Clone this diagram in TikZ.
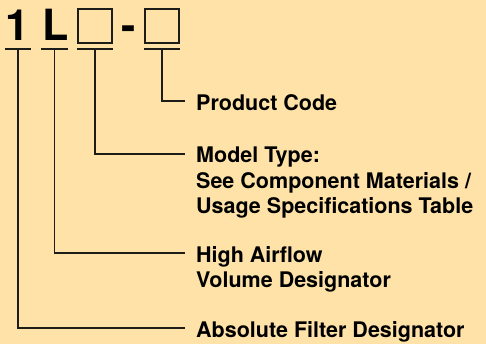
\documentclass[tikz,border=0pt]{standalone}
\usepackage{fontspec}
\setmainfont{TeX Gyre Heros}
\usetikzlibrary{positioning}
\definecolor{paper}{RGB}{254,226,168}
\definecolor{ink}{RGB}{28,28,24}
\tikzstyle{bigchar} = [font=\fontsize{43}{43}\selectfont\bfseries, inner sep=0pt, anchor=base, text=black]
\tikzstyle{slot} = [rectangle, draw=ink, line width=1.3pt, minimum width=34pt, minimum height=34pt, inner sep=0pt]
\tikzstyle{desc} = [font=\fontsize{21.5}{25.5}\selectfont\bfseries, align=left, anchor=north west, inner sep=0pt, text=black]
\tikzstyle{leader} = [draw=ink, line width=1.2pt]

\begin{document}
\begin{tikzpicture}[x=1pt,y=-1pt]
\fill[paper] (0,0) rectangle (486,344);
\node (one) [bigchar] at (17,41) {1};
\node (ell) [bigchar] at (56,41) {L};
\node (box1) [slot] at (95,26) {};
\node (dash) [bigchar] at (128.5,41) {-};
\node (box2) [slot] at (162,26) {};
% underlines below each position
\foreach \a/\b in {5/31, 41/68, 77/113, 144/180}
  \draw[leader, line width=1.4pt] (\a,49) -- (\b,49);
\coordinate (t1) at (18,49);
\coordinate (t2) at (54.5,49);
\coordinate (t3) at (95,49);
\coordinate (t4) at (162,49);
\node (product) [desc] at (196,94) {Product Code};
\node (model) [desc] at (196,147) {Model Type:\\See Component Materials /\\Usage Specifications Table};
\node (airflow) [desc] at (196,246) {High Airflow\\Volume Designator};
\node (absolute) [desc] at (196,321) {Absolute Filter Designator};
\draw[leader] (t4) |- ([xshift=-11pt,yshift=-7pt]product.north west);
\draw[leader] (t3) |- ([xshift=-11pt,yshift=-7pt]model.north west);
\draw[leader] (t2) |- ([xshift=-11pt,yshift=-7pt]airflow.north west);
\draw[leader] (t1) |- ([xshift=-11pt,yshift=-7pt]absolute.north west);
\end{tikzpicture}
\end{document}
